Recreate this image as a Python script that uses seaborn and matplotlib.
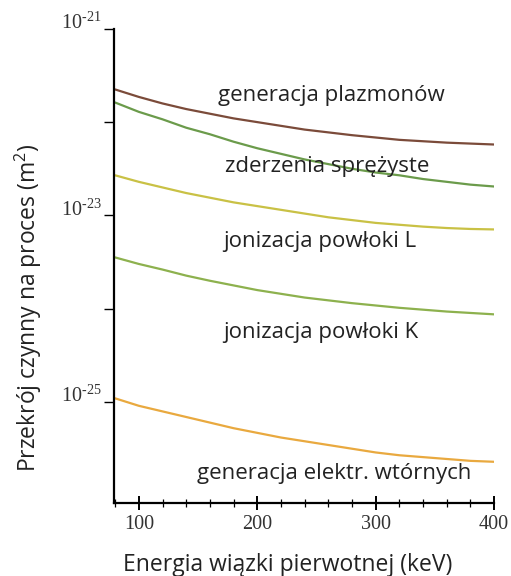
import numpy as np
import pandas as pd
import matplotlib
matplotlib.use("Agg")
import matplotlib.pyplot as plt
import seaborn as sns
from matplotlib.ticker import FixedLocator, MultipleLocator, NullLocator

# ---- data (cross-sections as log10 of m^2) ----
energy_keV = [80, 100, 120, 140, 160, 180, 200, 220, 240, 260, 280, 300, 320, 340, 360, 380, 400]
log_plazmony = [-21.65, -21.73, -21.80, -21.86, -21.91, -21.96, -22.00, -22.04, -22.08,
                -22.11, -22.14, -22.165, -22.19, -22.205, -22.22, -22.23, -22.24]
log_sprezyste = [-21.79, -21.89, -21.97, -22.06, -22.13, -22.21, -22.28, -22.34, -22.40,
                 -22.45, -22.50, -22.54, -22.57, -22.61, -22.64, -22.67, -22.69]
log_powloka_L = [-22.57, -22.64, -22.70, -22.76, -22.81, -22.86, -22.90, -22.94, -22.98,
                 -23.02, -23.05, -23.08, -23.10, -23.12, -23.135, -23.145, -23.15]
log_powloka_K = [-23.45, -23.52, -23.58, -23.645, -23.70, -23.75, -23.80, -23.84, -23.88,
                 -23.91, -23.94, -23.965, -23.99, -24.01, -24.03, -24.045, -24.06]
log_wtorne = [-24.96, -25.04, -25.10, -25.16, -25.22, -25.28, -25.33, -25.38, -25.42,
              -25.46, -25.50, -25.54, -25.57, -25.59, -25.61, -25.63, -25.64]

series_names = ["generacja plazmonów", "zderzenia sprężyste", "jonizacja powłoki L",
                "jonizacja powłoki K", "generacja elektr. wtórnych"]
series_logs = [log_plazmony, log_sprezyste, log_powloka_L, log_powloka_K, log_wtorne]
colors = ["#7b4b3a", "#6b9b4b", "#c9c145", "#8db14e", "#e9a93f"]

x_ticks = [100, 200, 300, 400]
y_ticks = [1e-25, 1e-24, 1e-23, 1e-22, 1e-21]
y_tick_labels = ["10$^{\\text{-25}}$", "", "10$^{\\text{-23}}$", "", "10$^{\\text{-21}}$"]

# label anchors (keV, log10 value) - left edge, vertical centre
label_pos = [(167, -21.72), (173, -22.48), (171, -23.28), (171, -24.25), (149, -25.77)]

rows = []
for name, logs in zip(series_names, series_logs):
    for e, lv in zip(energy_keV, logs):
        rows.append({"E": e, "sigma": 10.0 ** lv, "proces": name})
df = pd.DataFrame(rows)

sns.set_style("white")
plt.rcParams["font.family"] = ["Open Sans", "DejaVu Sans"]
plt.rcParams["mathtext.fontset"] = "custom"
plt.rcParams["mathtext.rm"] = "Liberation Serif"

fig = plt.figure(figsize=(5.11, 5.76), dpi=100)
ax = fig.add_axes([0.223, 0.127, 0.744, 0.823])

sns.lineplot(data=df, x="E", y="sigma", hue="proces", palette=dict(zip(series_names, colors)),
             linewidth=1.6, ax=ax, legend=False)

ax.set_yscale("log")
ax.set_xlim(79, 400)
ax.set_ylim(10**-26.08, 1e-21)

sns.despine(ax=ax)
for s in ["left", "bottom"]:
    ax.spines[s].set_linewidth(1.6)
    ax.spines[s].set_color("black")

ax.xaxis.set_major_locator(FixedLocator(x_ticks))
ax.xaxis.set_minor_locator(MultipleLocator(20))
ax.tick_params(axis="x", which="both", bottom=True)
ax.tick_params(axis="x", which="major", direction="inout", length=10, width=1.4, colors="black",
               pad=4)
ax.tick_params(axis="x", which="minor", direction="inout", length=6, width=0.9, colors="black")
ax.yaxis.set_major_locator(FixedLocator(y_ticks))
ax.yaxis.set_minor_locator(NullLocator())
ax.set_yticklabels(y_tick_labels)
ax.tick_params(axis="y", which="major", left=True, direction="out", length=7, width=1.0,
               colors="black", pad=2)

for lab in ax.get_xticklabels() + ax.get_yticklabels():
    lab.set_fontfamily("Liberation Serif")
    lab.set_fontsize(14.5)
    lab.set_color("#333333")
for lab in ax.get_yticklabels():
    lab.set_verticalalignment("baseline")

ax.set_xlabel("Energia wiązki pierwotnej (keV)", fontsize=16.5, color="#222222")
ax.set_ylabel("Przekrój czynny na proces (m$^{\\mathregular{2}}$)", fontsize=16.5, color="#222222")
ax.xaxis.set_label_coords(0.458, -0.105)
ax.yaxis.set_label_coords(-0.185, 0.412)

for name, (lx, ly) in zip(series_names, label_pos):
    ax.text(lx, 10.0 ** ly, name, fontsize=16, color="#222222", ha="left", va="center")

fig.savefig("out.png", dpi=100, facecolor="white")
